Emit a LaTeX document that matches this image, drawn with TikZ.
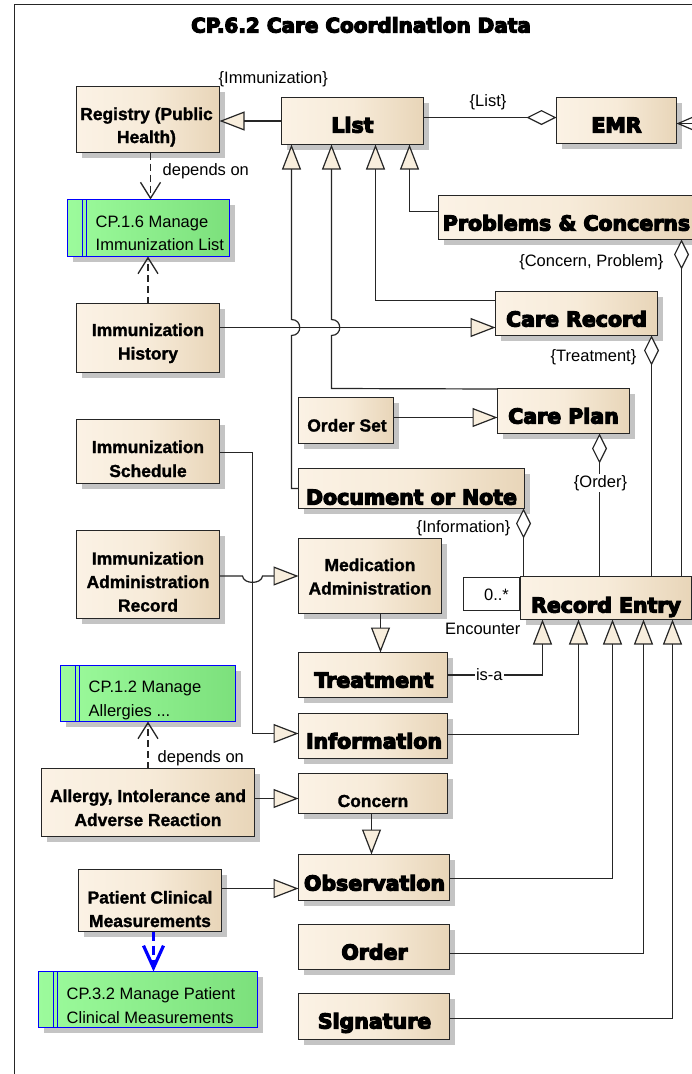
\documentclass[tikz,border=0pt]{standalone}
\usepackage{fontspec}
\setmainfont{Liberation Sans}
\newfontfamily\myheavy[FakeBold=6]{DejaVu Sans Bold}
\newfontfamily\mybold[FakeBold=1.5]{Liberation Sans Bold}
\usetikzlibrary{arrows.meta,shadows,calc}
\definecolor{edge}{HTML}{262626}
\definecolor{cremeL}{HTML}{FBF2E5}
\definecolor{cremeM}{HTML}{F7EBD9}
\definecolor{cremeR}{HTML}{E8D5B8}
\definecolor{tipc}{HTML}{F8EEDD}
\definecolor{grnL}{HTML}{9CFB9C}
\definecolor{grnR}{HTML}{7CE07C}
\definecolor{shadec}{HTML}{C4C4C4}
\definecolor{umlblue}{HTML}{0000FF}
\tikzset{
  sz/.style 2 args={minimum width=#1pt, minimum height=#2pt},
  umlbox/.style={draw=edge, line width=1.3pt, left color=cremeL, right color=cremeR, middle color=cremeM,
    drop shadow={shadow xshift=5pt, shadow yshift=-5pt, fill=shadec, opacity=1}, inner sep=0pt, outer sep=0pt},
  greenbox/.style={draw=umlblue, line width=1.3pt, left color=grnL, right color=grnR,
    drop shadow={shadow xshift=5pt, shadow yshift=-5pt, fill=shadec, opacity=1}, inner sep=0pt, outer sep=0pt},
  multbox/.style={draw=edge, line width=1.2pt, fill=white, inner sep=0pt, outer sep=0pt},
  heavytxt/.style={font=\myheavy\fontsize{20.5}{24}\selectfont, inner sep=0pt, anchor=base},
  boldtxt/.style={font=\mybold\fontsize{17.4}{21}\selectfont, inner sep=0pt, anchor=base},
  lbltxt/.style={font=\fontsize{16.5}{20}\selectfont, inner sep=0pt},
  gentip/.style={draw=edge, line width=1.2pt, -{Triangle[length=25pt,width=19pt,fill=tipc]}},
  aggtip/.style={draw=edge, line width=1.2pt, -{Diamond[length=30pt,width=15pt,fill=white]}},
  deparrow/.style={draw=edge, line width=1.3pt, dash pattern=on 7pt off 4pt, -{Straight Barb[length=16pt,width=20pt]}},
  bluedep/.style={draw=umlblue, line width=3.2pt, dash pattern=on 9pt off 5pt, -{Straight Barb[length=22pt,width=20pt]}},
  stripe/.style={draw=umlblue, line width=1pt}
}
\begin{document}
\begin{tikzpicture}[x=1pt,y=-1pt]
\useasboundingbox (0,0) rectangle (692,1074);
\clip (0,0) rectangle (692,1074);
\fill[white] (0,0) rectangle (692,1074);
\begin{scope}[shift={(0.5,0.5)}]
% frame
\draw[edge, line width=1.5pt] (14,1090) -- (14,4) -- (710,4);
\node[heavytxt, font=\myheavy\fontsize{20}{24}\selectfont] (title) at (360.5,32) {CP.6.2 Care Coordination Data};

% boxes
\node[umlbox, sz={143}{66}] (registry) at (147.5,119) {};
\node[greenbox, sz={162}{57}] (cp16) at (148,227.5) {};
\node[umlbox, sz={142}{47}] (list) at (352,120.5) {};
\node[umlbox, sz={120}{46}] (emr) at (616,120) {};
\node[umlbox, sz={259}{44}] (probs) at (567.5,217) {};
\node[umlbox, sz={162}{44}] (carerecord) at (576,313) {};
\node[umlbox, sz={143}{69}] (ih) at (147.5,337.5) {};
\node[umlbox, sz={95}{46}] (orderset) at (345.5,420) {};
\node[umlbox, sz={132}{45}] (careplan) at (563,410.5) {};
\node[umlbox, sz={143}{64}] (is) at (147.5,451) {};
\node[umlbox, sz={226}{40}] (doc) at (411,488) {};
\node[umlbox, sz={143}{88}] (iar) at (147.5,574) {};
\node[umlbox, sz={143}{75}] (medadmin) at (369.5,575.5) {};
\node[multbox, sz={56}{33}] (mult) at (491,593.5) {};
\node[umlbox, sz={171}{43}] (recentry) at (605.5,597.5) {};
\node[umlbox, sz={149}{45}] (treatment) at (372.5,674.5) {};
\node[greenbox, sz={175}{56}] (cp12) at (147.5,693) {};
\node[umlbox, sz={149}{45}] (information) at (372.5,735.5) {};
\node[umlbox, sz={213}{68}] (allergy) at (147.5,802) {};
\node[umlbox, sz={149}{40}] (concern) at (372.5,793) {};
\node[umlbox, sz={151}{46}] (observation) at (373.5,877) {};
\node[umlbox, sz={143}{62}] (pcm) at (149.5,900) {};
\node[umlbox, sz={151}{45}] (order) at (373.5,946.5) {};
\node[greenbox, sz={219}{56}] (cp32) at (147.5,999) {};
\node[umlbox, sz={151}{46}] (signature) at (373.5,1016) {};

% green stripes
\foreach \g in {cp16,cp12,cp32}{
  \draw[stripe] ([xshift=15pt]\g.north west) -- ([xshift=15pt]\g.south west);
  \draw[stripe] ([xshift=19pt]\g.north west) -- ([xshift=19pt]\g.south west);
}

% heavy texts
\node[heavytxt] (tlist) at (352,132) {List};
\node[heavytxt] (temr) at (616,132) {EMR};
\node[heavytxt] (tprobs) at (566,230) {Problems \& Concerns};
\node[heavytxt] (tcr) at (576,326) {Care Record};
\node[heavytxt] (tcp) at (563,423) {Care Plan};
\node[heavytxt] (tdoc) at (411,504) {Document or Note};
\node[heavytxt] (tre) at (605.5,612) {Record Entry};
\node[heavytxt] (ttr) at (373.5,687) {Treatment};
\node[heavytxt] (tinf) at (373.5,748) {Information};
\node[heavytxt] (tobs) at (374,890) {Observation};
\node[heavytxt] (tord) at (374,959) {Order};
\node[heavytxt] (tsig) at (374,1028) {Signature};

% bold texts
\node[boldtxt] (treg1) at (146,119.5) {Registry (Public};
\node[boldtxt] (treg2) at (146,142.5) {Health)};
\node[boldtxt] (tih1) at (147.5,335.5) {Immunization};
\node[boldtxt] (tih2) at (147.5,359) {History};
\node[boldtxt] (tis1) at (147.5,452.5) {Immunization};
\node[boldtxt] (tis2) at (147.5,476.5) {Schedule};
\node[boldtxt] (tiar1) at (147.5,564) {Immunization};
\node[boldtxt] (tiar2) at (147.5,587.5) {Administration};
\node[boldtxt] (tiar3) at (147.5,611) {Record};
\node[boldtxt] (tos) at (346.5,431) {Order Set};
\node[boldtxt] (tma1) at (369.5,570.5) {Medication};
\node[boldtxt] (tma2) at (369.5,594) {Administration};
\node[boldtxt] (tal1) at (147.5,801.5) {Allergy, Intolerance and};
\node[boldtxt] (tal2) at (147.5,825.5) {Adverse Reaction};
\node[boldtxt] (tcon) at (372.5,806.5) {Concern};
\node[boldtxt] (tpcm1) at (149.5,903) {Patient Clinical};
\node[boldtxt] (tpcm2) at (149.5,926.5) {Measurements};

% green texts
\node[lbltxt, anchor=base west] (g1a) at (95,227) {CP.1.6 Manage};
\node[lbltxt, anchor=base west] (g1b) at (95,250) {Immunization List};
\node[lbltxt, anchor=base west] (g2a) at (88,692) {CP.1.2 Manage};
\node[lbltxt, anchor=base west] (g2b) at (88,715.5) {Allergies ...};
\node[lbltxt, anchor=base west] (g3a) at (66,999) {CP.3.2 Manage Patient};
\node[lbltxt, anchor=base west] (g3b) at (66,1022.5) {Clinical Measurements};

% generalizations
\draw[gentip] (list.west) -- (list.west -| registry.east);
\draw[gentip] ([yshift=6pt]probs.west) -| ([xshift=57pt]list.south);
\draw[gentip] ([yshift=13pt]carerecord.west) -| ([xshift=23pt]list.south);
\draw[gentip] ([yshift=22pt]careplan.west) -- (331,388) -- (331,335)
   .. controls (342,335) and (342,319) .. (331,319) -- ([xshift=-21pt]list.south);
\draw[gentip] (doc.west) -- (291,488) -- (291,335)
   .. controls (302,335) and (302,319) .. (291,319) -- ([xshift=-61pt]list.south);
\draw[gentip] ([yshift=10.5pt]ih.east) -- ([yshift=-14pt]carerecord.west);
\draw[gentip] ([yshift=3pt]orderset.east) -- ([yshift=3pt]orderset.east -| careplan.west);
\draw[gentip] ([yshift=-1.5pt]iar.east) -- (242,575.5)
   .. controls (243,584) and (261,584) .. (262,575.5) -- (medadmin.west);
\draw[gentip] ([yshift=-1pt]is.east) -| (252,733) -- ([yshift=2.5pt]information.west);
\draw[gentip] ([xshift=10.5pt]medadmin.south) -- ([xshift=10.5pt]medadmin.south |- treatment.north);
\draw[gentip] (treatment.east) -| ([xshift=-63.5pt]recentry.south)
   node[lbltxt, pos=0.22, fill=white, inner sep=1.5pt] (lisa) {is-a};
\draw[gentip] ([yshift=1.5pt]information.east) -| ([xshift=-27.5pt]recentry.south);
\draw[gentip] ([yshift=-1pt]observation.east) -| ([xshift=6.5pt]recentry.south);
\draw[gentip] ([yshift=-6.5pt]order.east) -| ([xshift=37.5pt]recentry.south);
\draw[gentip] ([yshift=-2pt]signature.east) -| ([xshift=66.5pt]recentry.south);
\draw[gentip] ([xshift=-1.5pt]concern.south) -- ([xshift=-1.5pt]concern.south |- observation.north);
\draw[gentip] ([yshift=4pt]allergy.east) -- ([yshift=4pt]allergy.east -| concern.west);
\draw[gentip] ([yshift=12pt]pcm.east) -- ([yshift=12pt]pcm.east -| observation.west);

% aggregations
\draw[aggtip] ([yshift=3.5pt]list.east) -- ([yshift=3.5pt]list.east -| emr.west);
\draw[aggtip] ([xshift=75.5pt]recentry.north) -- ([xshift=75.5pt]recentry.north |- probs.south);
\draw[aggtip] ([xshift=45.5pt]recentry.north) -- ([xshift=45.5pt]recentry.north |- carerecord.south);
\draw[aggtip] ([xshift=-6.5pt]recentry.north) -- ([xshift=-6.5pt]recentry.north |- careplan.south);
\draw[aggtip] ([xshift=-82.5pt]recentry.north) -- ([xshift=-82.5pt]recentry.north |- doc.south);

% dependencies
\draw[deparrow] ([xshift=2.5pt]registry.south) -- ([xshift=2.5pt]registry.south |- cp16.north);
\draw[deparrow] (ih.north) -- (ih.north |- cp16.south);
\draw[deparrow] (allergy.north) -- (allergy.north |- cp12.south);
\draw[bluedep] ([xshift=3.5pt]pcm.south) -- ([xshift=3.5pt]pcm.south |- cp32.north);

% incoming association at EMR
\coordinate (emrsrc) at (705,123);
\draw[draw=edge, line width=1.2pt, -{Straight Barb[length=14pt,width=12pt]}] (emrsrc) -- (emrsrc -| emr.east);

% labels
\node[lbltxt, anchor=base west] (limm) at (218,83) {\{Immunization\}};
\node[lbltxt, anchor=base west] (ldep1) at (162,175) {depends on};
\node[lbltxt, anchor=base] (llist) at (487.5,106) {\{List\}};
\node[lbltxt, anchor=base east] (lcp) at (663,266) {\{Concern, Problem\}};
\node[lbltxt, anchor=base east] (ltr) at (636,360.5) {\{Treatment\}};
\node[lbltxt, anchor=base, fill=white, inner sep=1.5pt] (lord) at (600,486.5) {\{Order\}};
\node[lbltxt, anchor=base east] (linf) at (510,531.5) {\{Information\}};
\node[lbltxt, anchor=base east] (lenc) at (520,634) {Encounter};
\node[lbltxt, anchor=base] (lmult) at (496,600) {0..*};
\node[lbltxt, anchor=base west] (ldep2) at (157,761.5) {depends on};
\end{scope}
\end{tikzpicture}
\end{document}
